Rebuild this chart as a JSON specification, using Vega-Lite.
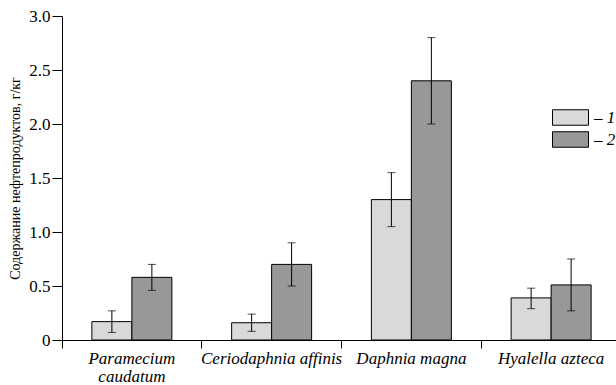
{
  "$schema": "https://vega.github.io/schema/vega-lite/v6.json",
  "width": 554,
  "height": 324,
  "autosize": {"type": "none"},
  "padding": {"left": 62, "top": 16, "right": 0, "bottom": 45},
  "background": "white",
  "config": {
    "font": "Liberation Serif",
    "view": {"stroke": null},
    "axis": {"domainColor": "black", "tickColor": "black", "labelColor": "black", "titleColor": "black", "grid": false, "domainWidth": 1, "tickWidth": 1}
  },
  "data": {
    "values": [
      {"species": "Paramecium caudatum", "series": "1", "value": 0.17, "lo": 0.07, "hi": 0.27},
      {"species": "Paramecium caudatum", "series": "2", "value": 0.58, "lo": 0.46, "hi": 0.70},
      {"species": "Ceriodaphnia affinis", "series": "1", "value": 0.16, "lo": 0.08, "hi": 0.24},
      {"species": "Ceriodaphnia affinis", "series": "2", "value": 0.70, "lo": 0.50, "hi": 0.90},
      {"species": "Daphnia magna", "series": "1", "value": 1.30, "lo": 1.05, "hi": 1.55},
      {"species": "Daphnia magna", "series": "2", "value": 2.40, "lo": 2.00, "hi": 2.80},
      {"species": "Hyalella azteca", "series": "1", "value": 0.39, "lo": 0.29, "hi": 0.48},
      {"species": "Hyalella azteca", "series": "2", "value": 0.51, "lo": 0.27, "hi": 0.75}
    ]
  },
  "encoding": {
    "x": {
      "field": "species", "type": "nominal", "sort": null,
      "scale": {"range": [0, 559], "paddingInner": 0, "paddingOuter": 0},
      "axis": {
        "title": null, "bandPosition": 0, "tickSize": 8, "labelAngle": 0,
        "labelFont": "Liberation Serif", "labelFontStyle": "italic", "labelFontSize": 17,
        "labelPadding": 2, "labelLineHeight": 18,
        "labelExpr": "datum.label == 'Paramecium caudatum' ? ['Paramecium', 'caudatum'] : datum.label"
      }
    },
    "xOffset": {"field": "series", "type": "nominal", "scale": {"paddingInner": 0, "paddingOuter": 0.7475}}
  },
  "layer": [
    {
      "mark": {"type": "bar", "stroke": "black", "strokeWidth": 1},
      "encoding": {
        "y": {
          "field": "value", "type": "quantitative",
          "scale": {"domain": [0, 3], "nice": false},
          "axis": {
            "title": "Содержание нефтепродуктов, г/кг", "titleFontSize": 14, "titleFontWeight": "normal",
            "titleFont": "Liberation Serif", "titlePadding": 6,
            "values": [0, 0.5, 1, 1.5, 2, 2.5, 3], "tickSize": 10, "labelPadding": 2,
            "labelFontSize": 17, "labelFont": "Liberation Serif",
            "labelExpr": "datum.value == 0 ? '0' : format(datum.value, '.1f')"
          }
        },
        "color": {
          "field": "series", "type": "nominal",
          "scale": {"domain": ["1", "2"], "range": ["#d9d9d9", "#989898"]},
          "legend": {
            "title": null, "orient": "none", "legendX": 499, "legendY": 92,
            "symbolType": "M-2,-0.86H2V0.86H-2Z", "symbolSize": 324,
            "symbolStrokeColor": "black", "symbolStrokeWidth": 1, "symbolOpacity": 1,
            "labelFont": "Liberation Serif", "labelFontStyle": "italic", "labelFontSize": 17,
            "labelOffset": 14, "rowPadding": 1, "padding": 0,
            "labelExpr": "'– ' + datum.label"
          }
        }
      }
    },
    {
      "mark": {"type": "rule", "color": "black", "strokeWidth": 1},
      "encoding": {
        "y": {"field": "lo", "type": "quantitative"},
        "y2": {"field": "hi"}
      }
    },
    {
      "mark": {"type": "tick", "color": "black", "thickness": 1, "size": 8},
      "encoding": {"y": {"field": "hi", "type": "quantitative"}}
    },
    {
      "mark": {"type": "tick", "color": "black", "thickness": 1, "size": 8},
      "encoding": {"y": {"field": "lo", "type": "quantitative"}}
    }
  ]
}
